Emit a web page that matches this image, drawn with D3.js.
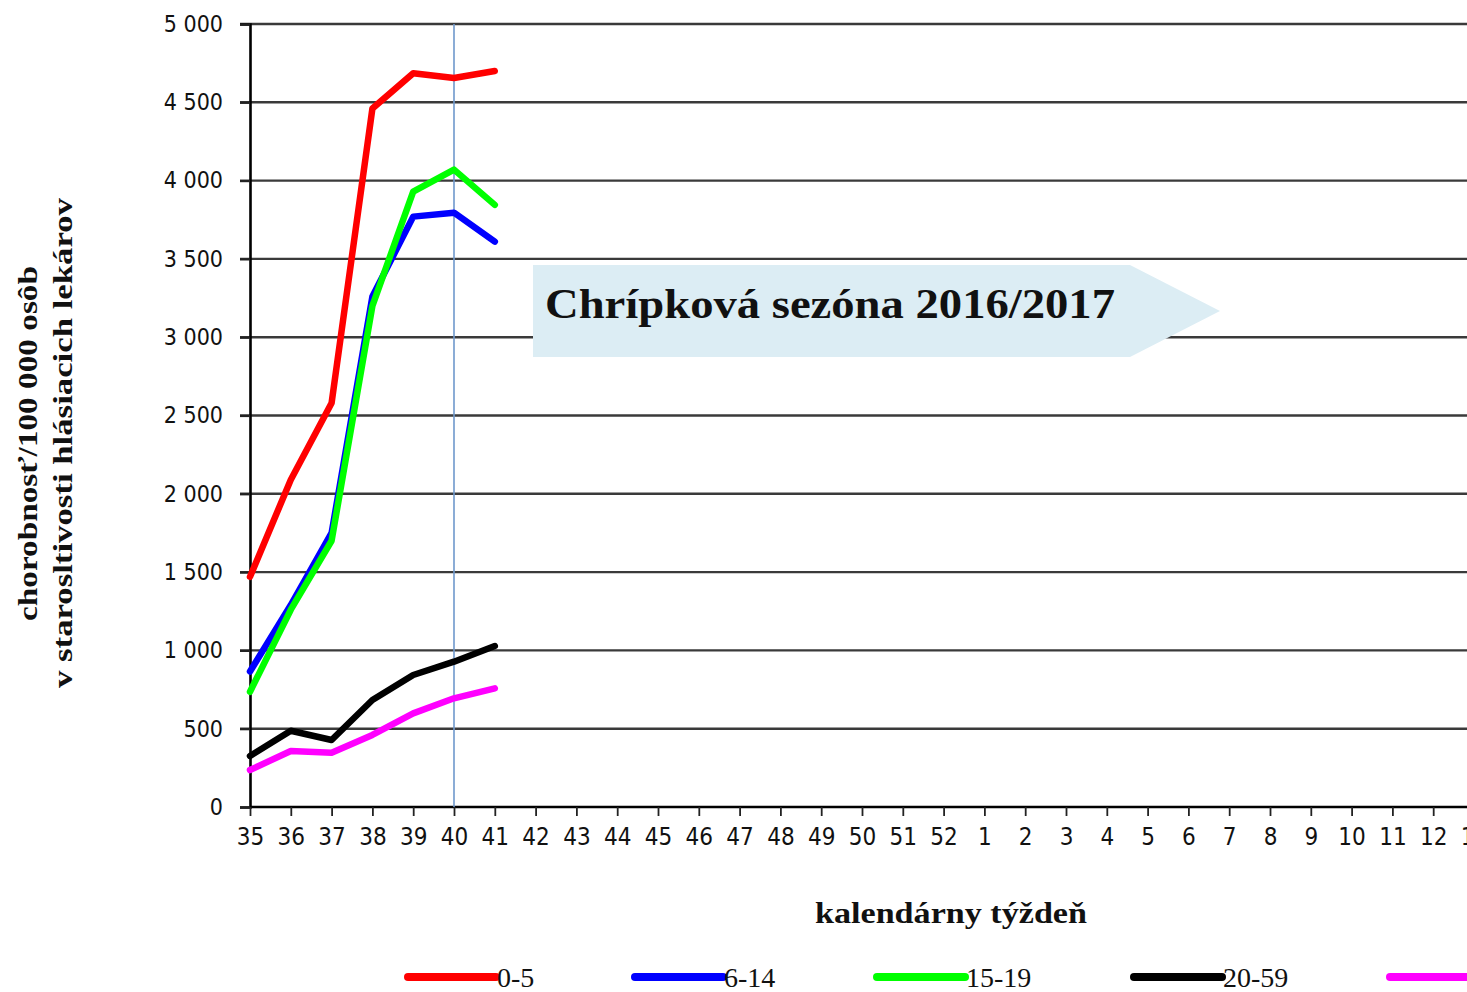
<!DOCTYPE html>
<html>
<head>
<meta charset="utf-8">
<script src="https://cdn.jsdelivr.net/npm/d3@7"></script>
<style>
  body { margin: 0; background: #fff; overflow: hidden; }
  svg { display: block; }
  .tick text { font-family: "Liberation Sans Narrow", "DejaVu Sans Condensed", sans-serif; }
</style>
</head>
<body>
<div id="chart"></div>
<script>
// weeks on the x axis (season 2016/2017)
var weeks = ["35","36","37","38","39","40","41","42","43","44","45","46","47","48","49","50","51","52",
             "1","2","3","4","5","6","7","8","9","10","11","12","13"];
var yTicks = [0, 500, 1000, 1500, 2000, 2500, 3000, 3500, 4000, 4500, 5000];

var seriesNames = ["0-5", "6-14", "15-19", "20-59", "60+"];
var seriesColors = ["#ff0000", "#0000ff", "#00ff00", "#000000", "#ff00ff"];

// values for weeks 35..41
var age0_5   = [1470, 2090, 2580, 4460, 4685, 4655, 4700];
var age6_14  = [865, 1290, 1750, 3260, 3770, 3795, 3610];
var age15_19 = [736, 1260, 1700, 3200, 3930, 4070, 3845];
var age20_59 = [326, 487, 428, 683, 843, 928, 1028];
var age60    = [236, 358, 347, 460, 598, 694, 758];

var currentWeek = "40";
var seasonLabel = "Chrípková sezóna 2016/2017";

var W = 1467, H = 992;
var mLeft = 250, mTop = 24, mBottom = 807, step = 40.8;

var svg = d3.select("#chart").append("svg")
    .attr("width", W).attr("height", H);

var x = d3.scalePoint()
    .domain(weeks)
    .range([mLeft, mLeft + step * (weeks.length - 1)]);

var y = d3.scaleLinear()
    .domain([0, 5000])
    .range([mBottom, mTop]);

// horizontal grid
svg.append("g")
    .selectAll("line")
    .data(yTicks.filter(function(d) { return d > 0; }))
    .enter().append("line")
    .attr("x1", mLeft - 10).attr("x2", W)
    .attr("y1", function(d) { return y(d); })
    .attr("y2", function(d) { return y(d); })
    .attr("stroke", "#3a3a3a")
    .attr("stroke-width", 2.4);

// y axis
var yAxis = svg.append("g")
    .attr("transform", "translate(" + mLeft + ",0)")
    .call(d3.axisLeft(y).tickValues(yTicks).tickSize(10).tickPadding(17)
        .tickFormat(function(d) { return d3.format(",")(d).replace(",", " "); }));
yAxis.select(".domain").attr("stroke", "#000").attr("stroke-width", 2.6);
yAxis.selectAll(".tick line").attr("stroke", "#222").attr("stroke-width", 2.2);
yAxis.selectAll(".tick text").attr("font-size", 23).attr("fill", "#111");

// x axis
var xAxis = svg.append("g")
    .attr("transform", "translate(0," + mBottom + ")")
    .call(d3.axisBottom(x).tickSize(9).tickSizeOuter(0).tickPadding(12));
xAxis.select(".domain").attr("stroke", "#000").attr("stroke-width", 2.6)
    .attr("d", "M" + mLeft + ",0H" + W);
xAxis.selectAll(".tick line").attr("stroke", "#222").attr("stroke-width", 1.8);
xAxis.selectAll(".tick text").attr("font-size", 24).attr("fill", "#111");

// current week marker
svg.append("line")
    .attr("x1", x(currentWeek)).attr("x2", x(currentWeek))
    .attr("y1", mTop).attr("y2", mBottom)
    .attr("stroke", "#6f98cc").attr("stroke-width", 1.6);

// season arrow
var ax0 = 533, ax1 = 1130, atip = 1220, ay0 = 265, ay1 = 357;
svg.append("path")
    .attr("d", "M" + ax0 + "," + ay0 + "H" + ax1 + "L" + atip + "," + ((ay0 + ay1) / 2) +
               "L" + ax1 + "," + ay1 + "H" + ax0 + "Z")
    .attr("fill", "#dcedf4");
svg.append("text")
    .attr("x", 545).attr("y", 318)
    .attr("font-family", "Liberation Serif, serif")
    .attr("font-weight", "bold")
    .attr("font-size", 42)
    .attr("textLength", 570)
    .attr("lengthAdjust", "spacingAndGlyphs")
    .attr("fill", "#111")
    .text(seasonLabel);

// lines
var allSeries = [age0_5, age6_14, age15_19, age20_59, age60];
var line = d3.line()
    .x(function(d, i) { return x(weeks[i]); })
    .y(function(d) { return y(d); });

// draw order: green over blue, red on top
[4, 3, 1, 2, 0].forEach(function(k) {
    svg.append("path")
        .datum(allSeries[k])
        .attr("d", line)
        .attr("fill", "none")
        .attr("stroke", seriesColors[k])
        .attr("stroke-width", 6.5)
        .attr("stroke-linejoin", "round")
        .attr("stroke-linecap", "round");
});

// axis titles
svg.append("text")
    .attr("x", 815).attr("y", 923)
    .attr("font-family", "Liberation Serif, serif")
    .attr("font-weight", "bold")
    .attr("font-size", 29)
    .attr("textLength", 272)
    .attr("lengthAdjust", "spacingAndGlyphs")
    .attr("fill", "#111")
    .text("kalendárny týždeň");

var yt = svg.append("g")
    .attr("transform", "translate(37,443) rotate(-90)")
    .attr("font-family", "Liberation Serif, serif")
    .attr("font-weight", "bold")
    .attr("font-size", 27)
    .attr("fill", "#111");
yt.append("text").attr("x", -178).attr("y", 0)
    .attr("textLength", 355).attr("lengthAdjust", "spacingAndGlyphs")
    .text("chorobnosť/100 000 osôb");
yt.append("text").attr("x", -245).attr("y", 35)
    .attr("textLength", 490).attr("lengthAdjust", "spacingAndGlyphs")
    .text("v starosltivosti hlásiacich lekárov");

// legend
var legendX = [408, 635, 877, 1134, 1390];
var lg = svg.append("g").selectAll("g")
    .data(seriesNames)
    .enter().append("g")
    .attr("transform", function(d, i) { return "translate(" + legendX[i] + ",977)"; });
lg.append("line")
    .attr("x1", 0).attr("x2", 88)
    .attr("stroke", function(d, i) { return seriesColors[i]; })
    .attr("stroke-width", 8)
    .attr("stroke-linecap", "round");
lg.append("text")
    .attr("x", 89).attr("y", 10)
    .attr("font-family", "Liberation Serif, serif")
    .attr("font-size", 28)
    .attr("fill", "#111")
    .text(function(d) { return d; });
</script>
</body>
</html>
